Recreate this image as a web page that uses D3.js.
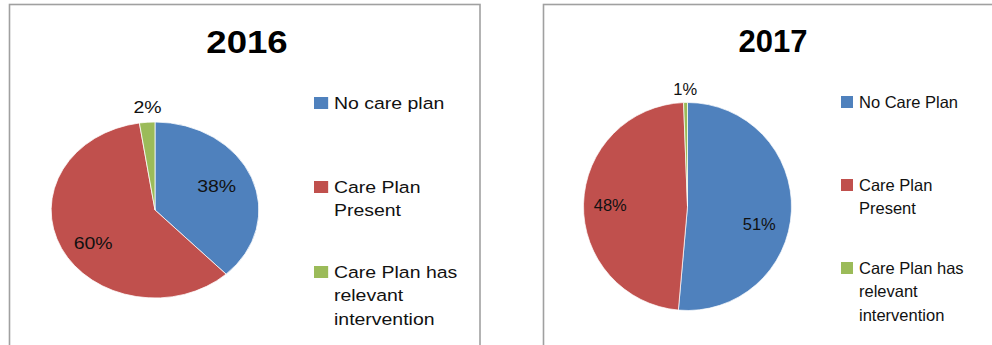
<!DOCTYPE html>
<html>
<head>
<meta charset="utf-8">
<script src="https://cdn.jsdelivr.net/npm/d3@7"></script>
<style>
html, body { margin: 0; padding: 0; background: #fff; }
svg { display: block; font-family: "Liberation Sans", Arial, sans-serif; }
</style>
</head>
<body>
<svg id="chart" width="992" height="345"></svg>
<script>
// values (shares in %)
let categories2016 = ["No care plan", "Care Plan Present", "Care Plan has relevant intervention"];
let values2016 = [38.0, 59.6, 2.4];
let categories2017 = ["No Care Plan", "Care Plan Present", "Care Plan has relevant intervention"];
let values2017 = [51.4, 48.0, 0.6];
let colors = ["#4f81bd", "#c0504d", "#9bbb59"];

let svg = d3.select("#chart");

// chart frames (they run off the bottom / right of the picture)
svg.append("rect")
  .attr("x", 9.5).attr("y", 4.5)
  .attr("width", 470.5).attr("height", 400)
  .attr("fill", "none").attr("stroke", "#a0a0a0").attr("stroke-width", 1.6);
svg.append("rect")
  .attr("x", 543.5).attr("y", 4.5)
  .attr("width", 500).attr("height", 400)
  .attr("fill", "none").attr("stroke", "#a0a0a0").attr("stroke-width", 1.6);

// layout of each panel, global x positions; sx = horizontal stretch of the panel
// nudge = small shift of each data label from its centroid (best-fit placement)
let layout2016 = {
  ox: 9, sx: 1.18,
  titleX: 247, titleY: 53,
  cx: 155, cy: 210, r: 88,
  swatchX: 314, textX: 334,
  legendTops: [97, 181, 266],
  nudge: [[-5, -1], [3, 6], [1.5, 0]]
};
let layout2017 = {
  ox: 543, sx: 1,
  titleX: 773, titleY: 52,
  cx: 687.5, cy: 206.5, r: 104,
  swatchX: 841, textX: 859,
  legendTops: [96, 179, 262],
  nudge: [[-1, 14], [-4.5, 0], [0, 1.5]]
};

function wrapWords(g, str, maxW, size) {
  let probe = g.append("text").attr("font-size", size);
  let words = str.split(" ");
  let lines = [];
  let line = "";
  words.forEach(function(w) {
    let test = line ? line + " " + w : w;
    probe.text(test);
    if (line && probe.node().getComputedTextLength() > maxW) {
      lines.push(line);
      line = w;
    } else {
      line = test;
    }
  });
  if (line) lines.push(line);
  probe.remove();
  return lines;
}

function drawPanel(cfg, title, cats, vals) {
  let lx = function(X) { return (X - cfg.ox) / cfg.sx; };
  let g = svg.append("g")
    .attr("transform", "translate(" + cfg.ox + ",0) scale(" + cfg.sx + ",1)");

  g.append("text")
    .attr("x", lx(cfg.titleX))
    .attr("y", cfg.titleY)
    .attr("text-anchor", "middle")
    .attr("font-size", 31)
    .attr("font-weight", "bold")
    .attr("fill", "#000")
    .text(title);

  let rows = cats.map(function(c, i) { return { name: c, value: vals[i], color: colors[i] }; });
  let total = d3.sum(vals);

  let pie = d3.pie().sort(null).value(function(d) { return d.value; });
  let arcs = pie(rows);
  let arc = d3.arc().innerRadius(0).outerRadius(cfg.r);
  let inArc = d3.arc().innerRadius(cfg.r * 0.7).outerRadius(cfg.r * 0.7);
  let outArc = d3.arc().innerRadius(cfg.r + 15).outerRadius(cfg.r + 15);

  let pieG = g.append("g")
    .attr("transform", "translate(" + lx(cfg.cx) + "," + cfg.cy + ")");

  pieG.selectAll("path")
    .data(arcs)
    .join("path")
    .attr("d", arc)
    .attr("fill", function(d) { return d.data.color; })
    .attr("stroke", "#ffffff")
    .attr("stroke-width", 0.7);

  pieG.selectAll("text.lbl")
    .data(arcs)
    .join("text")
    .attr("class", "lbl")
    .attr("transform", function(d, i) {
      let a = (d.value / total < 0.05) ? outArc : inArc;
      let c = a.centroid(d);
      return "translate(" + (c[0] + cfg.nudge[i][0]) + "," + (c[1] + cfg.nudge[i][1]) + ")";
    })
    .attr("text-anchor", "middle")
    .attr("dy", "0.36em")
    .attr("font-size", 16.5)
    .attr("fill", "#111")
    .text(function(d) { return Math.round(d.value / total * 100) + "%"; });

  // legend
  let leg = g.selectAll("g.leg")
    .data(rows)
    .join("g")
    .attr("class", "leg")
    .attr("transform", function(d, i) { return "translate(0," + cfg.legendTops[i] + ")"; });

  leg.append("rect")
    .attr("x", lx(cfg.swatchX))
    .attr("y", 0)
    .attr("width", 12)
    .attr("height", 12)
    .attr("fill", function(d) { return d.color; });

  leg.each(function(d) {
    let lines = wrapWords(g, d.name, 110, 16.5);
    let t = d3.select(this).append("text")
      .attr("x", lx(cfg.textX))
      .attr("y", 11.5)
      .attr("font-size", 16.5)
      .attr("fill", "#111");
    lines.forEach(function(l, k) {
      t.append("tspan")
        .attr("x", lx(cfg.textX))
        .attr("y", 11.5 + k * 23.8)
        .text(l);
    });
  });
}

drawPanel(layout2016, "2016", categories2016, values2016);
drawPanel(layout2017, "2017", categories2017, values2017);
</script>
</body>
</html>
